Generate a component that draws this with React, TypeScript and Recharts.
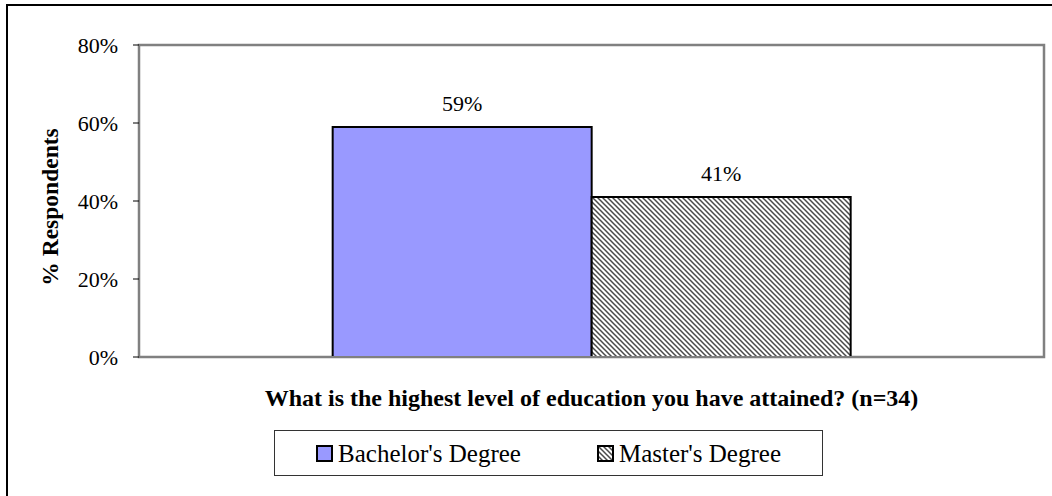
import React from 'react';
import { BarChart, Bar, XAxis, YAxis, LabelList, ReferenceArea } from 'recharts';

const categories = ["Bachelor's Degree", "Master's Degree"];
const values = [59, 41];
const yTicks = [0, 20, 40, 60, 80];
const xTitle = 'What is the highest level of education you have attained? (n=34)';
const yTitle = '% Respondents';

const seriesKeys = ['bachelor', 'master'];
const fills = ['#9999FF', 'url(#hatch)'];

const row: Record<string, string | number> = { name: xTitle };
seriesKeys.forEach((k, i) => {
  row[k] = values[i];
});
const data = [row];

const font = 'Liberation Serif, Tinos, Times New Roman, Times, DejaVu Serif, serif';

const YTitle = (props: any) => {
  const vb = props.viewBox || {};
  const x = vb.x + 19;
  const y = vb.y + vb.height / 2 + 6;
  return (
    <text
      x={x}
      y={y}
      transform={`rotate(-90, ${x}, ${y})`}
      textAnchor="middle"
      style={{ fontFamily: font }}
      fontWeight="bold"
      fontSize={23.5}
      fill="#000"
    >
      {yTitle}
    </text>
  );
};

const XTitle = (props: any) => {
  const vb = props.viewBox || {};
  return (
    <text
      x={vb.x + vb.width / 2}
      y={vb.y + 49}
      textAnchor="middle"
      style={{ fontFamily: font }}
      fontWeight="bold"
      fontSize={24}
      fill="#000"
    >
      {xTitle}
    </text>
  );
};

const HatchPattern = ({ id }: { id: string }) => (
  <pattern id={id} patternUnits="userSpaceOnUse" width={5} height={5}>
    <rect width={5} height={5} fill="#fff" />
    <path d="M-1,-1 L6,6 M-1,4 L1,6 M4,-1 L6,1" stroke="#4a4a4a" strokeWidth={1.5} />
  </pattern>
);

const App: React.FC = () => {
  return (
    <div
      style={{
        position: 'absolute',
        left: 0,
        top: 0,
        width: 1052,
        height: 496,
        overflow: 'hidden',
        background: '#fff',
        fontFamily: font,
      }}
    >
      <div
        style={{
          position: 'absolute',
          left: 6,
          top: 4,
          width: 1100,
          height: 600,
          borderLeft: '2px solid #000',
          borderTop: '2px solid #000',
        }}
      />
      <div style={{ position: 'absolute', left: 0, top: 0, fontFamily: font }}>
        <BarChart
          width={1052}
          height={496}
          data={data}
          margin={{ top: 45, right: 8, left: 39, bottom: 79 }}
          barGap={0}
          barCategoryGap="21.4%"
          style={{ fontFamily: font }}
        >
          <defs>
            <HatchPattern id="hatch" />
          </defs>
          <XAxis
            dataKey="name"
            tick={false}
            tickLine={false}
            height={60}
            axisLine={{ stroke: '#808080', strokeWidth: 2 }}
            label={<XTitle />}
          />
          <YAxis
            width={100}
            domain={[0, 80]}
            ticks={yTicks}
            tickFormatter={(v: number) => `${v}%`}
            tick={{ fill: '#000', fontSize: 22, fontFamily: font }}
            tickSize={6}
            tickMargin={15}
            tickLine={{ stroke: '#000', strokeWidth: 1 }}
            axisLine={{ stroke: '#808080', strokeWidth: 2 }}
            label={<YTitle />}
          />
          <ReferenceArea
            y1={0}
            y2={80}
            fill="none"
            stroke="#808080"
            strokeWidth={2.5}
            ifOverflow="visible"
          />
          {seriesKeys.map((k, i) => (
            <Bar
              key={k}
              dataKey={k}
              name={categories[i]}
              fill={fills[i]}
              stroke="#000"
              strokeWidth={2}
              isAnimationActive={false}
            >
              <LabelList
                dataKey={k}
                position="top"
                offset={16}
                formatter={(v: any) => `${v}%`}
                fill="#000"
                fontSize={22}
                fontFamily={font}
              />
            </Bar>
          ))}
        </BarChart>
      </div>
      <div
        style={{
          position: 'absolute',
          left: 274,
          top: 430,
          width: 549,
          height: 46,
          boxSizing: 'border-box',
          border: '1px solid #333',
          display: 'flex',
          alignItems: 'center',
          justifyContent: 'center',
          gap: 76,
          fontSize: 25,
          color: '#000',
        }}
      >
        {categories.map((c, i) => (
          <div key={c} style={{ display: 'flex', alignItems: 'center', gap: 4 }}>
            <svg width={18} height={17}>
              <defs>
                <HatchPattern id="hatch-legend" />
              </defs>
              <rect
                x={1}
                y={1}
                width={15}
                height={15}
                fill={i === 1 ? 'url(#hatch-legend)' : fills[i]}
                stroke="#000"
                strokeWidth={2}
              />
            </svg>
            <span style={{ lineHeight: 1 }}>{c}</span>
          </div>
        ))}
      </div>
    </div>
  );
};

export default App;
